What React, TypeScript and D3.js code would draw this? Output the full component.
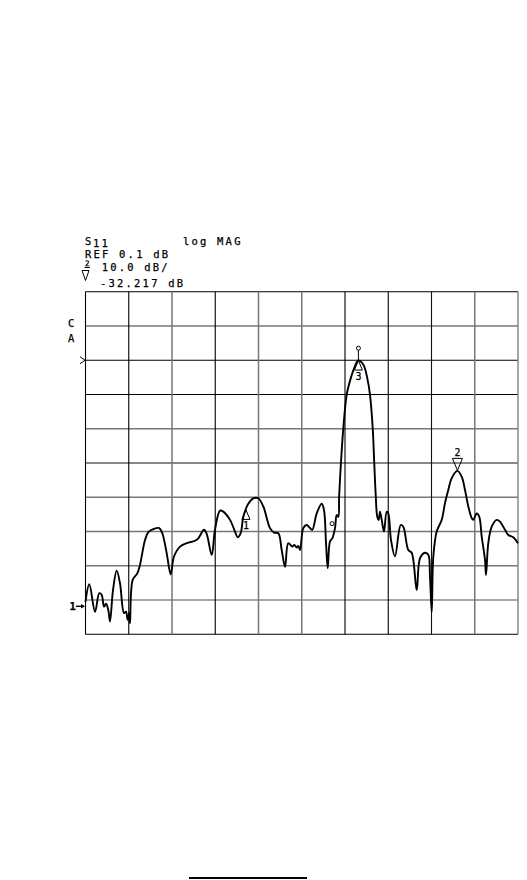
import React from "react";
import * as d3 from "d3";

// Frequency position in graticule divisions (0..10) and S11 magnitude in dB
const freqDiv = [
  0, 0.088, 0.22, 0.319, 0.375, 0.428, 0.474, 0.527, 0.566, 0.636,
  0.721, 0.798, 0.89, 0.936, 0.976, 1.013, 1.029, 1.091, 1.198, 1.26,
  1.376, 1.452, 1.568, 1.706, 1.776, 1.877, 1.97, 2.046, 2.185, 2.34,
  2.532, 2.608, 2.74, 2.802, 2.918, 2.994, 3.11, 3.186, 3.341, 3.457,
  3.519, 3.588, 3.649, 3.764, 3.88, 3.995, 4.111, 4.266, 4.358, 4.458,
  4.536, 4.613, 4.689, 4.782, 4.828, 4.883, 4.92, 4.96, 5.036, 5.114,
  5.191, 5.244, 5.346, 5.461, 5.514, 5.561, 5.6, 5.653, 5.706, 5.769,
  5.808, 5.845, 5.865, 5.908, 5.961, 6.039, 6.132, 6.231, 6.31, 6.428,
  6.516, 6.578, 6.641, 6.675, 6.71, 6.745, 6.779, 6.809, 6.849, 6.902, 6.964,
  7.001, 7.064, 7.156, 7.288, 7.348, 7.464, 7.542, 7.658, 7.734, 7.85,
  7.926, 7.965, 8.005, 8.042, 8.12, 8.236, 8.312, 8.388, 8.467, 8.597,
  8.698, 8.775, 8.851, 8.93, 8.966, 9.045, 9.105, 9.161, 9.237, 9.26,
  9.313, 9.392, 9.507, 9.584, 9.699, 9.776, 9.891, 10,
];
const magDb = [
  -70.4, -65.3, -73.3, -67.9, -68.4, -71.8, -71.0, -72.8, -76.2, -67.0,
  -61.3, -65.0, -73.7, -73.3, -75.7, -73.7, -76.7, -64.0, -62.1, -59.6,
  -52.4, -50.1, -49.2, -48.9, -50.4, -56.2, -62.4, -57.2, -54.3, -53.3,
  -52.6, -51.9, -49.4, -50.6, -56.7, -49.4, -43.8, -44.1, -46.5, -49.9,
  -51.6, -50.4, -45.6, -41.8, -40.2, -40.2, -42.6, -48.9, -50.2, -50.4,
  -55.3, -60.2, -53.3, -54.3, -53.8, -54.6, -54.1, -55.3, -48.9, -48.0,
  -48.9, -49.4, -44.6, -41.8, -43.6, -53.3, -60.6, -52.8, -51.9, -48.9,
  -45.1, -45.6, -39.5, -29.5, -19.8, -10.0, -5.2, -1.6, 0.0, -1.3,
  -5.2, -10.0, -19.8, -29.5, -39.2, -45.5, -46.5, -44.1, -46.5, -49.9, -44.1,
  -44.6, -52.4, -57.2, -48.0, -48.5, -55.3, -56.1, -67.0, -57.7, -56.1,
  -56.7, -63.1, -73.4, -57.2, -49.9, -46.5, -41.6, -37.8, -34.3, -32.2,
  -33.9, -37.8, -42.6, -46.0, -46.5, -44.6, -45.6, -51.4, -58.2, -62.6,
  -53.3, -48.5, -46.5, -47.0, -49.4, -50.9, -51.6, -53.3,
];

// Markers
const markerLabels = ["1", "2", "3"];
const markerFreq = [3.71, 8.6, 6.31];
const markerDb = [-43.6, -32.2, 0.0];
const markerPointUp = [true, false, true];

const refDb = 0.1;
const scaleDbPerDiv = 10;
const headerLines = ["REF 0.1 dB", "10.0 dB/", "-32.217 dB"];
const xDivisions = d3.range(0, 11);
const yDivisions = d3.range(0, 11);

export default function App() {
  const left = 85.5, right = 518, top = 291.7, bottom = 634.3;
  const refDiv = 2; // reference line position (divisions from top)
  const yMax = refDb + refDiv * scaleDbPerDiv;
  const yMin = yMax - 10 * scaleDbPerDiv;
  const x = d3.scaleLinear().domain([0, 10]).range([left, right]);
  const y = d3.scaleLinear().domain([yMin, yMax]).range([bottom, top]);
  const gridY = d3.scaleLinear().domain([0, 10]).range([top, bottom]);

  const n = Math.min(freqDiv.length, magDb.length);
  const pts: [number, number][] = freqDiv.slice(0, n).map((f, i) => [f, magDb[i]]);
  const line = d3
    .line<[number, number]>()
    .x((d) => x(d[0]))
    .y((d) => y(d[1]))
    .curve(d3.curveCatmullRom.alpha(0.5));

  const vColors = ["#000", "#000", "#777", "#000", "#777", "#777", "#000", "#000", "#111", "#777", "#888"];
  const hColors = ["#000", "#777", "#000", "#000", "#777", "#111", "#777", "#777", "#777", "#888", "#000"];

  const font = "'DejaVu Sans Mono', monospace";
  const ts = { fontFamily: font, fontSize: 10.5, letterSpacing: 2.2, fill: "#000", stroke: "#000", strokeWidth: 0.25 } as React.CSSProperties;

  const peakX = x(markerFreq[2]);
  const peakY = y(markerDb[2]);

  return (
    <svg
      width={527}
      height={880}
      style={{ position: "absolute", left: 0, top: 0, background: "#fff" }}
    >
      <rect width={527} height={880} fill="#fff" />
      {/* header */}
      <text x={85} y={245} style={ts}>S</text>
      <text x={93} y={247} style={ts}>11</text>
      <text x={183} y={244.5} style={ts}>log MAG</text>
      <text x={85} y={258.3} style={ts}>{headerLines[0]}</text>
      <text x={85} y={266} style={{ ...ts, fontSize: 7.5, letterSpacing: 0 }}>2</text>
      <line x1={84.5} x2={90} y1={267.5} y2={267.5} stroke="#000" strokeWidth={1} />
      <text x={101.7} y={271} style={ts}>{headerLines[1]}</text>
      <path d="M82,270.5 L89,270.5 L85.5,280.5 Z" fill="none" stroke="#000" strokeWidth={1} />
      <text x={100} y={286.7} style={ts}>{headerLines[2]}</text>

      {/* grid */}
      {yDivisions.map((i) => (
        <line
          key={"h" + i}
          x1={left}
          x2={right}
          y1={gridY(i)}
          y2={gridY(i)}
          stroke={hColors[i]}
          strokeWidth={hColors[i] === "#000" || hColors[i] === "#111" ? 1.1 : 1.5}
        />
      ))}
      {xDivisions.map((i) => (
        <line
          key={"v" + i}
          x1={x(i)}
          x2={x(i)}
          y1={top}
          y2={bottom}
          stroke={vColors[i]}
          strokeWidth={vColors[i] === "#000" || vColors[i] === "#111" ? 1.1 : 1.5}
        />
      ))}

      {/* left annotations */}
      <text x={68} y={327} style={{ ...ts, letterSpacing: 0 }}>C</text>
      <text x={68} y={342} style={{ ...ts, letterSpacing: 0 }}>A</text>
      <path d={`M80,${y(refDb) - 3.5} L85,${y(refDb)} L80,${y(refDb) + 3.5}`} fill="none" stroke="#000" strokeWidth={1} />
      <text x={69.5} y={610} style={{ ...ts, fontWeight: "bold", letterSpacing: 0 }}>1</text>
      <line x1={76} x2={84} y1={606.3} y2={606.3} stroke="#000" strokeWidth={1.4} />
      <path d="M81,604 L85,606.3 L81,608.6 Z" fill="#000" />

      {/* trace */}
      <path d={line(pts) || ""} fill="none" stroke="#000" strokeWidth={1.9} strokeLinejoin="round" />

      {/* markers */}
      {markerLabels.map((lab, i) => {
        const mx = x(markerFreq[i]);
        const my = y(markerDb[i]);
        if (markerPointUp[i]) {
          return (
            <g key={lab}>
              <path d={`M${mx},${my} L${mx - 4},${my + 9.5} L${mx + 4},${my + 9.5} Z`} fill="none" stroke="#000" strokeWidth={1} />
              <text x={mx} y={my + 19.5} textAnchor="middle" style={{ ...ts, fontSize: 10, letterSpacing: 0 }}>{lab}</text>
            </g>
          );
        }
        return (
          <g key={lab}>
            <path d={`M${mx},${my - 0.5} L${mx - 5},${my - 12.5} L${mx + 5},${my - 12.5} Z`} fill="none" stroke="#000" strokeWidth={1} />
            <text x={mx} y={my - 14.5} textAnchor="middle" style={{ ...ts, fontSize: 10, letterSpacing: 0 }}>{lab}</text>
          </g>
        );
      })}
      <line x1={peakX} x2={peakX} y1={y(3.6) + 2} y2={peakY} stroke="#000" strokeWidth={1} />
      <circle cx={peakX} cy={y(3.6)} r={2} fill="#fff" stroke="#000" strokeWidth={1} />
      <circle cx={x(5.7)} cy={y(-47.6)} r={2} fill="#fff" stroke="#000" strokeWidth={1} />

      {/* bottom rule */}
      <line x1={189} x2={307} y1={878} y2={878} stroke="#000" strokeWidth={2} />
    </svg>
  );
}
